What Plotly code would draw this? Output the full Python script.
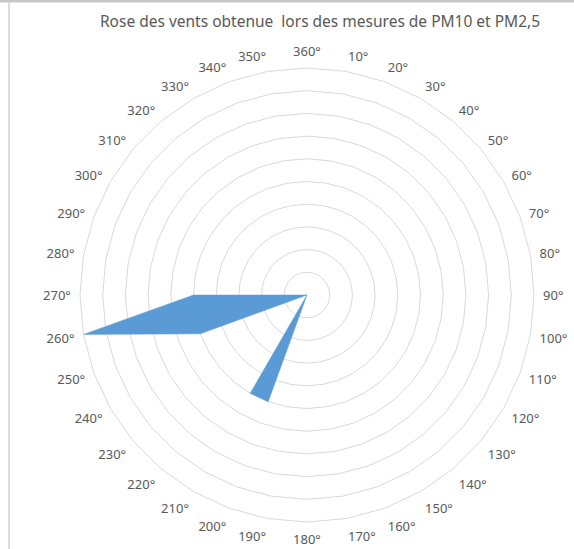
import plotly.graph_objects as go

# Data
directions = ["360°"] + [f"{d}°" for d in range(10, 360, 10)]
values = [0, 0, 0, 0, 0, 0, 0, 0, 0, 0,   # 360,10..90
          0, 0, 0, 0, 0, 0, 0, 0, 0, 0,   # 100..190
          5, 5, 0, 0, 0, 5, 10, 5, 0, 0,  # 200..290
          0, 0, 0, 0, 0, 0]               # 300..350
title_text = "Rose des vents obtenue  lors des mesures de PM10 et PM2,5"

W, H = 574, 549
cx, cy, R = 307, 295, 227

fig = go.Figure()
fig.add_trace(go.Scatterpolar(
    r=values + [values[0]],
    theta=directions + [directions[0]],
    mode="lines",
    fill="toself",
    fillcolor="#5B9BD5",
    line=dict(color="#5B9BD5", width=0.5),
    hoverinfo="skip",
))

fig.update_layout(
    width=W, height=H,
    margin=dict(l=0, r=0, t=0, b=0),
    paper_bgcolor="white",
    plot_bgcolor="white",
    showlegend=False,
    font=dict(family="Noto Sans", color="#595959", size=13),
    title=dict(text=title_text, x=320 / W, xanchor="center",
               y=1 - 22 / H, yanchor="middle",
               font=dict(size=15.5, color="#595959", family="Noto Sans")),
    polar=dict(
        domain=dict(x=[(cx - R) / W, (cx + R) / W],
                    y=[(H - cy - R) / H, (H - cy + R) / H]),
        bgcolor="white",
        gridshape="linear",
        radialaxis=dict(range=[0, 10], dtick=1, showticklabels=False,
                        ticks="", showline=False,
                        gridcolor="#D9D9D9", gridwidth=1),
        angularaxis=dict(type="category", categoryorder="array",
                         categoryarray=directions,
                         rotation=90, direction="clockwise",
                         showgrid=False, showline=True,
                         linecolor="#D9D9D9", linewidth=1,
                         ticks="outside", ticklen=6, tickcolor="rgba(0,0,0,0)",
                         tickfont=dict(size=13, color="#595959")),
    ),
    shapes=[
        dict(type="rect", xref="paper", yref="paper", x0=0, x1=1,
             y0=1 - 2.5 / H, y1=1, fillcolor="#C8C8C8", line_width=0),
        dict(type="line", xref="paper", yref="paper", x0=9 / W, x1=9 / W,
             y0=0, y1=1 - 2.5 / H, line=dict(color="#D0D0D0", width=1.5)),
    ],
)

fig.write_html("out.html",
               config={"displayModeBar": False},
               post_script="document.body.style.margin='0';document.body.style.padding='0';")
